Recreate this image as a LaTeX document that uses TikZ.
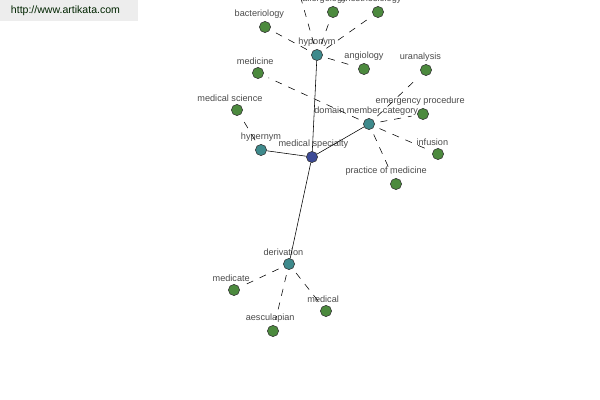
\documentclass[tikz,border=0pt]{standalone}
\usepackage{fontspec}
\setmainfont{Liberation Sans}
\usepackage{tikz}
\usetikzlibrary{positioning}

\definecolor{leafgreen}{HTML}{4C8A3E}
\definecolor{relteal}{HTML}{3E8A8C}
\definecolor{rootblue}{HTML}{3C4A96}
\definecolor{labgray}{HTML}{4A4A4A}

\begin{document}
\begin{tikzpicture}[x=0.025cm, y=-0.025cm,
  leaf/.style={circle, draw=black!80, fill=leafgreen, minimum size=2.8mm, inner sep=0pt, thin},
  rel/.style={circle, draw=black!80, fill=relteal, minimum size=2.8mm, inner sep=0pt, thin},
  root/.style={circle, draw=black!80, fill=rootblue, minimum size=2.8mm, inner sep=0pt, thin},
  lab/.style={font=\fontsize{6.5}{7}\selectfont, text=labgray, inner sep=0pt},
  link/.style={thin, black},
  sublink/.style={thin, black, dashed, dash pattern=on 5pt off 5pt, shorten >=4pt, shorten <=4pt}
]
\useasboundingbox (0,0) rectangle (600,400);
\clip (0,0) rectangle (600,400);

% --- watermark ---
\fill[black!7] (0,0) rectangle (138,21);
\node[font=\fontsize{7.5}{8}\selectfont, text=black!65!green!40!black, anchor=west] (site) at (6,11) {http://www.artikata.com};

% --- centre and relation nodes ---
\node[root] (spec)   at (312,157) {};
\node[rel]  (hypo)   at (317,55)  {};
\node[rel]  (hyper)  at (261,150) {};
\node[rel]  (domain) at (369,124) {};
\node[rel]  (deriv)  at (289,264) {};

% --- leaf nodes ---
\node[leaf] (bact)    at (265,27)  {};
\node[leaf] (allerg)  at (333,12)  {};
\node[leaf] (anest)   at (378,12)  {};
\node[leaf] (angio)   at (364,69)  {};
\coordinate (hypotop) at (298,-12);
\node[leaf] (medicine) at (258,73) {};
\node[leaf] (medsci)  at (237,110) {};
\node[leaf] (uran)    at (426,70)  {};
\node[leaf] (emerg)   at (423,114) {};
\node[leaf] (infus)   at (438,154) {};
\node[leaf] (pract)   at (396,184) {};
\node[leaf] (medicate) at (234,290) {};
\node[leaf] (medical) at (326,311) {};
\node[leaf] (aescul)  at (273,331) {};

% --- labels ---
\node[lab, above=1.5pt of spec, xshift=1pt]  {medical specialty};
\node[lab, above=1.5pt of hypo]              {hyponym};
\node[lab, above=1.5pt of hyper]             {hypernym};
\node[lab, above=1.5pt of domain, xshift=-2pt] {domain member category};
\node[lab, above=1.5pt of deriv, xshift=-4pt]  {derivation};
\node[lab, above=1.5pt of bact, xshift=-4pt] {bacteriology};
\node[lab, above=1.5pt of allerg, xshift=-6pt] {allergology};
\node[lab, above=1.5pt of anest, xshift=-5pt]  {anesthesiology};
\node[lab, above=1.5pt of angio]             {angiology};
\node[lab, above=1.5pt of medicine, xshift=-2pt] {medicine};
\node[lab, above=1.5pt of medsci, xshift=-5pt] {medical science};
\node[lab, above=1.5pt of uran, xshift=-4pt] {uranalysis};
\node[lab, above=1.5pt of emerg, xshift=-2pt] {emergency procedure};
\node[lab, above=1.5pt of infus, xshift=-4pt] {infusion};
\node[lab, above=1.5pt of pract, xshift=-7pt] {practice of medicine};
\node[lab, above=1.5pt of medicate, xshift=-2pt] {medicate};
\node[lab, above=1.5pt of medical, xshift=-2pt] {medical};
\node[lab, above=1.5pt of aescul, xshift=-2pt] {aesculapian};

% --- solid links ---
\draw[link] (spec) -- (hypo);
\draw[link] (spec) -- (hyper);
\draw[link] (spec) -- (domain);
\draw[link] (spec) -- (deriv);

% --- dashed links ---
\draw[sublink] (hypo) -- (bact);
\draw[sublink] (hypo) -- (allerg);
\draw[sublink] (hypo) -- (anest);
\draw[sublink] (hypo) -- (angio);
\draw[sublink] (hypo) -- (hypotop);
\draw[sublink] (hyper) -- (medsci);
\draw[sublink] (domain) -- (medicine);
\draw[sublink] (domain) -- (uran);
\draw[sublink] (domain) -- (emerg);
\draw[sublink] (domain) -- (infus);
\draw[sublink] (domain) -- (pract);
\draw[sublink] (deriv) -- (medicate);
\draw[sublink] (deriv) -- (medical);
\draw[sublink] (deriv) -- (aescul);
\end{tikzpicture}
\end{document}
